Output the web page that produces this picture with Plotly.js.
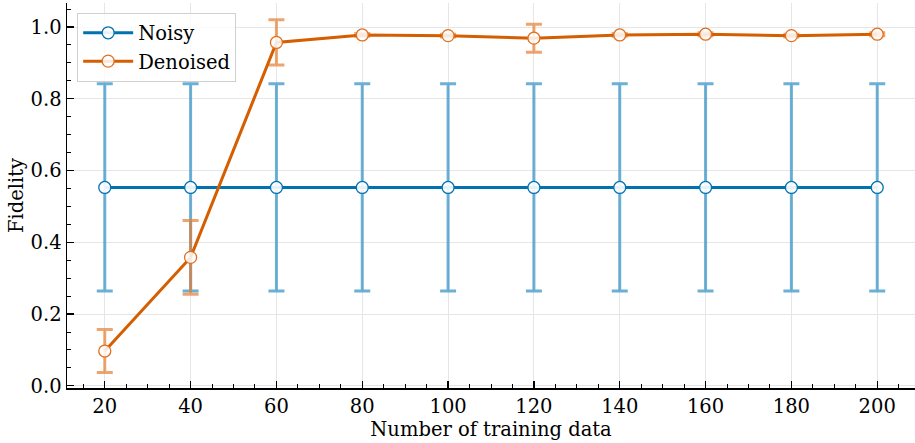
<!DOCTYPE html>
<html><head><meta charset="utf-8">
<script src="https://cdn.plot.ly/plotly-3.0.1.min.js"></script>
<style>html,body{margin:0;padding:0;background:#fff}</style>
</head><body>
<div id="chart" style="width:915px;height:443px"></div>
<script>
const trainingData = [20, 40, 60, 80, 100, 120, 140, 160, 180, 200];
const noisyFidelity = [0.553, 0.553, 0.553, 0.553, 0.553, 0.553, 0.553, 0.553, 0.553, 0.553];
const noisyErr = [0.289, 0.289, 0.289, 0.289, 0.289, 0.289, 0.289, 0.289, 0.289, 0.289];
const denoisedFidelity = [0.097, 0.358, 0.957, 0.978, 0.976, 0.969, 0.978, 0.980, 0.976, 0.980];
const denoisedErr = [0.060, 0.103, 0.063, 0.004, 0.004, 0.039, 0.004, 0.004, 0.004, 0.004];
const xTicks = [20, 40, 60, 80, 100, 120, 140, 160, 180, 200];
const yTicks = [0.0, 0.2, 0.4, 0.6, 0.8, 1.0];

const font = {family: 'DejaVu Serif, serif', size: 19.5, color: '#000'};

const traces = [
  {
    x: trainingData, y: noisyFidelity, name: 'Noisy', type: 'scatter', mode: 'lines+markers',
    line: {color: '#0072B2', width: 3},
    marker: {size: 12, color: 'rgba(255,255,255,0.9)', line: {color: '#0072B2', width: 1.3}},
    error_y: {type: 'data', array: noisyErr, visible: true, color: 'rgba(60,150,200,0.75)', thickness: 3, width: 8}
  },
  {
    x: trainingData, y: denoisedFidelity, name: 'Denoised', type: 'scatter', mode: 'lines+markers',
    line: {color: '#D55E00', width: 3},
    marker: {size: 12, color: 'rgba(255,255,255,0.85)', line: {color: '#E07020', width: 1.3}},
    error_y: {type: 'data', array: denoisedErr, visible: true, color: 'rgba(230,125,50,0.7)', thickness: 3, width: 8}
  }
];

const layout = {
  width: 915, height: 443,
  margin: {l: 67, r: 0, t: 3, b: 55},
  paper_bgcolor: '#fff', plot_bgcolor: '#fff',
  font: font,
  showlegend: true,
  legend: {
    x: 0.012, y: 0.975, xanchor: 'left', yanchor: 'top',
    bgcolor: 'rgba(255,255,255,0.8)', bordercolor: '#d0d0d0', borderwidth: 1,
    font: {family: 'DejaVu Serif, serif', size: 19.5, color: '#000'},
    itemwidth: 50, tracegroupgap: 0
  },
  xaxis: {
    range: [11.2, 208.8],
    tickvals: xTicks, ticktext: xTicks.map(String),
    ticks: 'inside', ticklen: 7, tickwidth: 1.2, tickcolor: '#000',
    minor: {dtick: 5, tick0: 0, ticks: 'inside', ticklen: 4, tickcolor: '#000', tickwidth: 1, showgrid: false},
    showline: true, linecolor: '#000', linewidth: 1.5, mirror: false,
    showgrid: true, gridcolor: '#e6e6e6', gridwidth: 1,
    zeroline: false,
    tickfont: font,
    title: {text: 'Number of training data', font: font, standoff: 4}
  },
  yaxis: {
    range: [-0.006, 1.067],
    tickvals: yTicks, ticktext: yTicks.map(v => v.toFixed(1)),
    ticks: 'inside', ticklen: 7, tickwidth: 1.2, tickcolor: '#000',
    minor: {dtick: 0.05, tick0: 0, ticks: 'inside', ticklen: 4, tickcolor: '#000', tickwidth: 1, showgrid: false},
    showline: true, linecolor: '#000', linewidth: 1.5, mirror: false,
    showgrid: true, gridcolor: '#e6e6e6', gridwidth: 1,
    zeroline: false,
    tickfont: font,
    title: {text: 'Fidelity', font: font, standoff: 2}
  }
};

Plotly.newPlot('chart', traces, layout, {displayModeBar: false, staticPlot: true});
</script>
</body></html>
